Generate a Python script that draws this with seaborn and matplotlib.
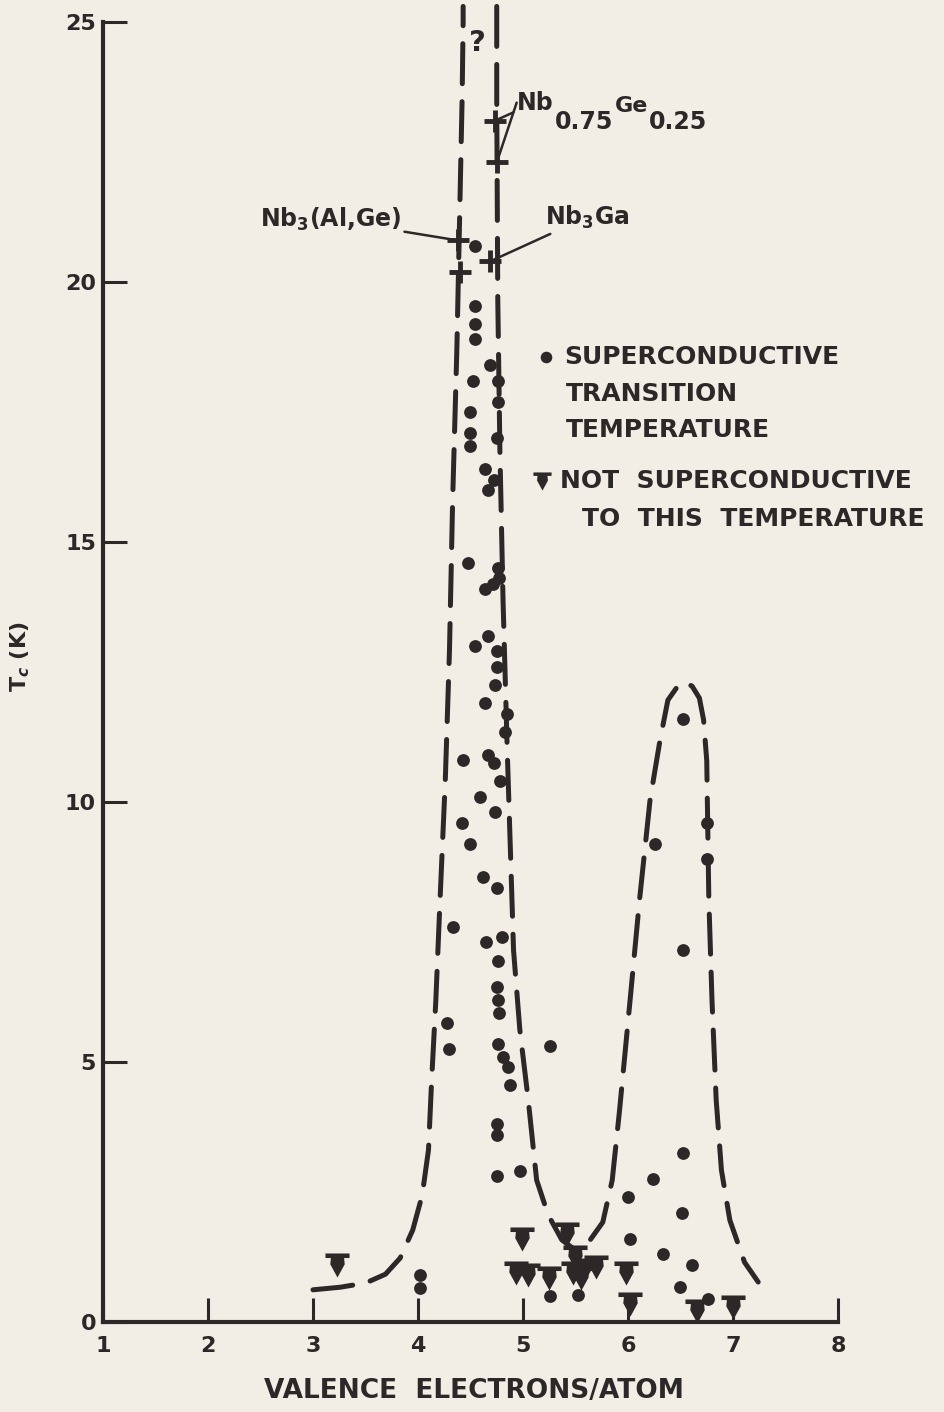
import numpy as np
import pandas as pd
import matplotlib
matplotlib.use("Agg")
import matplotlib.pyplot as plt
from matplotlib.path import Path
import seaborn as sns

# superconductive transition temperatures (valence electrons/atom, Tc in K)
sc_x = [4.54, 4.54, 4.54, 4.52, 4.50, 4.50, 4.50, 4.69, 4.76, 4.76, 4.75, 4.64, 4.67, 4.72,
        4.54, 4.48, 4.64, 4.71, 4.76, 4.77, 4.67, 4.54, 4.75, 4.75, 4.73, 4.64, 4.85, 4.83,
        4.43, 4.67, 4.72, 4.78, 4.59, 4.73, 4.42, 4.50, 4.62, 4.75, 4.33, 4.65, 4.80, 4.76,
        4.75, 4.76, 4.77, 4.28, 4.30, 4.76, 4.81, 4.86, 4.88, 5.26, 4.75, 4.75, 4.75, 4.97,
        4.02, 4.02, 5.26, 5.52,
        6.52, 6.26, 6.75, 6.75, 6.52, 6.52, 6.24, 6.00, 6.51, 6.02, 6.33, 6.61, 6.50, 6.76]
sc_tc = [19.54, 19.2, 18.9, 18.1, 17.5, 17.1, 16.85, 18.4, 18.1, 17.7, 17.0, 16.4, 16.0, 16.2,
         20.7, 14.6, 14.1, 14.2, 14.5, 14.3, 13.2, 13.0, 12.9, 12.6, 12.25, 11.9, 11.7, 11.35,
         10.8, 10.9, 10.75, 10.4, 10.1, 9.8, 9.6, 9.2, 8.55, 8.35, 7.6, 7.3, 7.4, 6.95,
         6.45, 6.2, 5.95, 5.75, 5.25, 5.35, 5.1, 4.9, 4.55, 5.3, 3.8, 3.6, 2.8, 2.9,
         0.65, 0.9, 0.5, 0.52,
         11.6, 9.2, 9.6, 8.9, 7.15, 3.25, 2.75, 2.4, 2.1, 1.6, 1.3, 1.1, 0.67, 0.45]

# not superconductive down to this temperature
ns_x = [3.23, 4.99, 4.93, 5.05, 5.25, 5.42, 5.50, 5.48, 5.58, 5.70, 5.55, 5.98, 6.02, 6.66, 7.00]
ns_tc = [1.1, 1.6, 0.95, 0.9, 0.85, 1.7, 1.25, 0.95, 1.0, 1.05, 0.85, 0.95, 0.35, 0.22, 0.28]

# labelled Nb compounds
nb_x = [4.38, 4.40, 4.73, 4.75, 4.69]
nb_tc = [20.8, 20.2, 23.1, 22.3, 20.4]

# dashed envelope, left flank of first peak
env1_x = [3.00, 3.26, 3.50, 3.69, 3.83, 3.95, 4.04, 4.10, 4.13, 4.17, 4.21, 4.26, 4.30,
          4.33, 4.37, 4.40, 4.42, 4.43, 4.43]
env1_y = [0.62, 0.67, 0.75, 0.92, 1.23, 1.77, 2.44, 3.31, 4.65, 6.19, 8.12, 10.42, 12.92,
          15.8, 18.69, 21.58, 23.5, 25.0, 25.3]
# right flank of first peak, valley and second peak
env2_x = [4.75, 4.75, 4.76, 4.78, 4.81, 4.85, 4.88, 4.91, 4.97, 5.05, 5.13, 5.24, 5.37,
          5.50, 5.64, 5.76, 5.85, 5.92, 6.02, 6.11, 6.21, 6.305, 6.38, 6.46, 6.53, 6.61,
          6.68, 6.72, 6.75, 6.77, 6.80, 6.84, 6.89, 6.97, 7.11, 7.24]
env2_y = [25.3, 23.5, 19.65, 16.77, 13.88, 11.0, 9.08, 7.15, 5.62, 4.27, 2.73, 2.06, 1.58,
          1.38, 1.58, 1.92, 2.73, 4.08, 6.19, 8.12, 10.04, 11.19, 11.96, 12.19, 12.31, 12.23,
          12.0, 11.58, 10.8, 8.12, 6.19, 4.27, 2.92, 1.96, 1.15, 0.77]

x_ticks = [1, 2, 3, 4, 5, 6, 7, 8]
y_ticks = [0, 5, 10, 15, 20, 25]

ink = "#2c2828"
paper = "#f3eee5"

sns.set_style("ticks")
plt.rcParams["font.family"] = ["DejaVu Sans"]
plt.rcParams["font.weight"] = "bold"

fig = plt.figure(figsize=(9.44, 14.12), dpi=100, facecolor=paper)
ax = fig.add_axes([0.1091, 0.0637, 0.7786, 0.9207])
ax.set_facecolor(paper)

dash = (0, (8, 3.6))
sns.lineplot(x=env1_x, y=env1_y, sort=False, estimator=None, color=ink, lw=3.6,
             linestyle=dash, dash_capstyle="round", ax=ax)
sns.lineplot(x=env2_x, y=env2_y, sort=False, estimator=None, color=ink, lw=3.6,
             linestyle=dash, dash_capstyle="round", ax=ax)
for ln in ax.lines:
    ln.set_clip_on(False)

sns.scatterplot(x=sc_x, y=sc_tc, color=ink, s=85, linewidth=0, ax=ax, clip_on=False)

# T-topped arrow marker used for "not superconductive"
t_marker = Path([(-1, 1), (1, 1), (1, 0.62), (0.55, 0.62), (0.6, 0.1), (0, -1),
                 (-0.6, 0.1), (-0.55, 0.62), (-1, 0.62), (-1, 1)], closed=True)
sns.scatterplot(x=ns_x, y=ns_tc, color=ink, marker=t_marker, s=300, linewidth=0,
                ax=ax, clip_on=False)
sns.scatterplot(x=nb_x, y=nb_tc, color=ink, marker="+", s=230, linewidth=3.5, ax=ax)

# labels for the Nb compounds
line_kw = dict(arrowstyle="-", color=ink, lw=1.8, shrinkA=0, shrinkB=0)
txt_kw = dict(fontsize=17, fontweight="bold", color=ink)
ax.annotate(r"Nb$_3$(Al,Ge)", xy=(nb_x[0], nb_tc[0]), xytext=(3.84, 21.2),
            ha="right", va="center", arrowprops=line_kw, **txt_kw)
t1 = ax.annotate("Nb", xy=(nb_x[2], nb_tc[2]), xytext=(4.94, 23.45),
                 ha="left", va="center", arrowprops=line_kw, **txt_kw)
ax.annotate("", xy=(nb_x[3], nb_tc[3]), xytext=(4.94, 23.45), arrowprops=line_kw)
t2 = ax.annotate("0.75", xy=(1, 0), xycoords=t1, xytext=(1, -1), textcoords="offset points",
                 ha="left", va="center", fontsize=17, color=ink)
t3 = ax.annotate("Ge", xy=(1, 1), xycoords=t2, xytext=(1, -4), textcoords="offset points",
                 ha="left", va="bottom", fontsize=16, color=ink)
ax.annotate("0.25", xy=(1, 0), xycoords=t3, xytext=(1, 4), textcoords="offset points",
            ha="left", va="top", fontsize=17, color=ink)
ax.annotate(r"Nb$_3$Ga", xy=(nb_x[4], nb_tc[4]), xytext=(5.21, 21.25),
            ha="left", va="center", arrowprops=line_kw, **txt_kw)
ax.text(4.57, 24.6, "?", ha="center", va="center", fontsize=21, color=ink,
        fontweight="bold")

# key on the right
key_kw = dict(transform=ax.transAxes, fontsize=18, fontweight="bold", color=ink,
              va="center", ha="left")
ax.scatter([0.603], [0.742], transform=ax.transAxes, s=70, color=ink, lw=0)
ax.text(0.627, 0.742, "SUPERCONDUCTIVE", **key_kw)
ax.text(0.630, 0.714, "TRANSITION", **key_kw)
ax.text(0.630, 0.686, "TEMPERATURE", **key_kw)
ax.scatter([0.597], [0.647], transform=ax.transAxes, s=170, color=ink, lw=0,
           marker=t_marker)
ax.text(0.622, 0.647, "NOT  SUPERCONDUCTIVE", **key_kw)
ax.text(0.652, 0.618, "TO  THIS  TEMPERATURE", **key_kw)

ax.set_xlim(1, 8)
ax.set_ylim(0, 25)
ax.set_xticks(x_ticks)
ax.set_yticks(y_ticks)
ax.set_xticklabels([str(v) for v in x_ticks])
ax.set_yticklabels([str(v) for v in y_ticks])
ax.tick_params(axis="both", direction="in", length=17, width=2.2, color=ink,
               labelcolor=ink, labelsize=16)
ax.tick_params(axis="x", pad=10)
ax.tick_params(axis="y", pad=5)
sns.despine(ax=ax)
for side in ["left", "bottom"]:
    ax.spines[side].set_linewidth(3)
    ax.spines[side].set_color(ink)

ax.set_xlabel("VALENCE  ELECTRONS/ATOM", fontsize=19, fontweight="bold", color=ink)
ax.xaxis.set_label_coords(0.505, -0.043)
ax.set_ylabel(r"T$_c$ (K)", fontsize=16, fontweight="bold", color=ink)
ax.yaxis.set_label_coords(-0.097, 0.512)

fig.savefig("out.png", dpi=100, facecolor=paper)
